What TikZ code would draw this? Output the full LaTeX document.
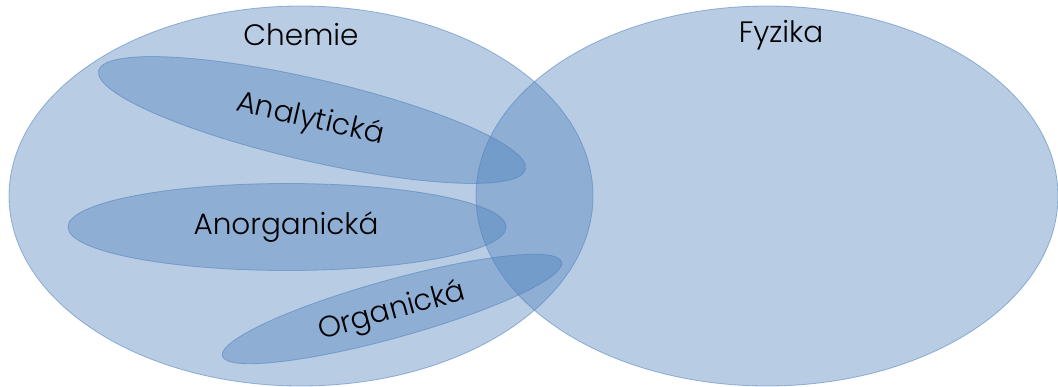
\documentclass[tikz,border=0pt]{standalone}
\usepackage{fontspec}
\setmainfont{Poppins Light}
\usetikzlibrary{shapes.geometric}
\definecolor{setblue}{HTML}{4F81BD}
\tikzset{
  setfill/.style={ellipse, inner sep=0pt, fill=setblue, fill opacity=0.4,
    draw=setblue, draw opacity=0.55, line width=0.8pt},
  setlabel/.style={text=black, font=\fontsize{29.5}{34}\selectfont, inner sep=0pt}
}
\begin{document}
\begin{tikzpicture}[x=1pt, y=-1pt]
  \fill[white] (0,0) rectangle (1058,387);
  \useasboundingbox (0,0) rectangle (1058,387);
  % the two main fields
  \node[setfill, minimum width=584pt, minimum height=380pt] (chem) at (301,196) {};
  \node[setfill, minimum width=582pt, minimum height=380pt] (fyz) at (767,196) {};
  % branches of chemistry
  \node[setfill, minimum width=438pt, minimum height=82pt, rotate=-13] (ana) at (312,120) {};
  \node[setfill, minimum width=438pt, minimum height=87pt] (anorg) at (287,227) {};
  \node[setfill, minimum width=352pt, minimum height=58pt, rotate=15.5] (org) at (392,309) {};
  % labels
  \node[setlabel] (chemlbl) at (301,35) {Chemie};
  \node[setlabel] (fyzlbl) at (781,35) {Fyzika};
  \node[setlabel, rotate=-13] (analbl) at (310,120) {Analytická};
  \node[setlabel] (anorglbl) at (286,227) {Anorganická};
  \node[setlabel, rotate=15.5] (orglbl) at (392,312) {Organická};
\end{tikzpicture}
\end{document}
